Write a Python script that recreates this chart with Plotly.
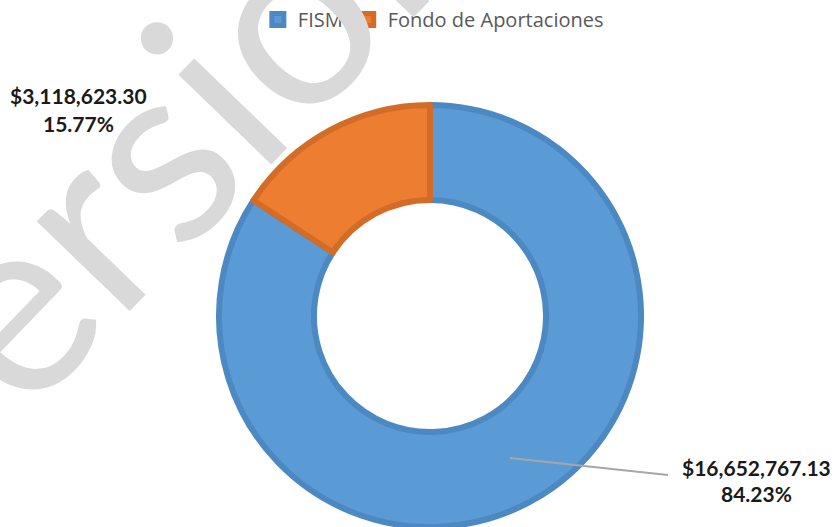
import plotly.graph_objects as go

categories = ["FISM", "Fondo de Aportaciones"]
values = [16652767.13, 3118623.30]
colors = ["#5B9BD5", "#ED7D31"]
border_colors = ["#4C89C2", "#D36C27"]
watermark = "Versión"

W, H = 835, 527
total = sum(values)
amount_txt = [f"${v:,.2f}" for v in values]
pct_txt = [f"{v / total * 100:.2f}%" for v in values]

def px(x):
    return x / W

def py(y):
    return 1 - y / H

fig = go.Figure()
fig.add_trace(go.Pie(
    labels=categories,
    values=values,
    hole=0.55,
    sort=False,
    direction="clockwise",
    rotation=0,
    textinfo="none",
    hoverinfo="label+value+percent",
    marker=dict(colors=colors, line=dict(color=border_colors, width=6)),
    domain=dict(x=[px(430 - 211), px(430 + 211)], y=[0, py(105)]),
))

label_font = dict(family="Lato", size=21, color="#1A1A1A", weight="bold")
label_pos = {1: (78, 96, 123), 0: (756, 467, 493)}

annotations = [
    dict(text=watermark, x=px(137), y=py(161), xref="paper", yref="paper",
         xanchor="center", yanchor="middle",
         showarrow=False, textangle=-46,
         font=dict(family="Lato", size=255, color="#D9D9D9")),
]
for i, (cx, y1, y2) in label_pos.items():
    annotations.append(dict(text=amount_txt[i], x=px(cx), y=py(y1), xref="paper", yref="paper",
                            xanchor="center", yanchor="middle", showarrow=False,
                            font=label_font))
    annotations.append(dict(text=pct_txt[i], x=px(cx), y=py(y2), xref="paper", yref="paper",
                            xanchor="center", yanchor="middle", showarrow=False,
                            font=label_font))

fig.update_layout(
    width=W, height=H,
    margin=dict(l=0, r=0, t=0, b=0, autoexpand=False),
    paper_bgcolor="white",
    plot_bgcolor="white",
    showlegend=True,
    legend=dict(orientation="h", x=0.519, xanchor="center", y=1.0, yanchor="top",
                font=dict(family="Open Sans", size=20, color="#595959"),
                itemwidth=30),
    annotations=annotations,
    shapes=[dict(type="path", xref="paper", yref="paper",
                 path=f"M {px(510)} {py(458)} L {px(640)} {py(472)} L {px(668)} {py(475)}",
                 line=dict(color="#A6A6A6", width=2))],
)

fig.write_html("out.html", config={"displayModeBar": False},
               post_script="document.body.style.margin='0';")
